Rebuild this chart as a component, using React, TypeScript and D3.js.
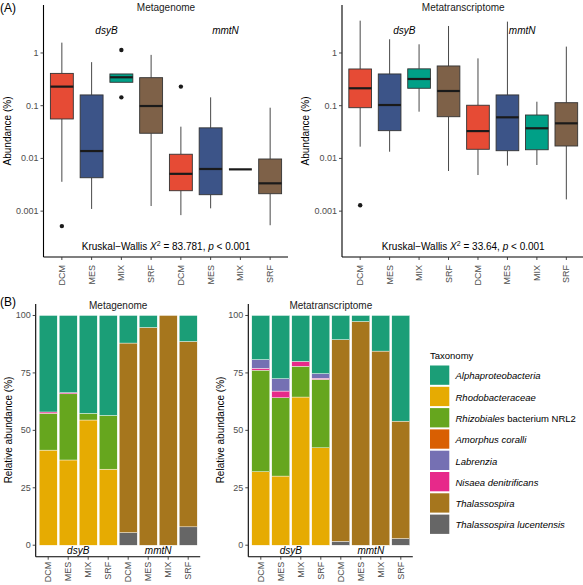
import React from "react";
import * as d3 from "d3";

const sites = ["DCM", "MES", "MIX", "SRF"];
const genes = ["dsyB", "mmtN"];
const siteColors = ["#E64B35", "#3C5488", "#00A087", "#7E6148"];
const cats = genes.flatMap((g) => sites.map((s) => `${g}-${s}`));

// Boxplot stats (% abundance), order: dsyB DCM..SRF, mmtN DCM..SRF
const mgLow = [0.0036, 0.0011, 0.278, 0.00125, 0.00084, 0.00113, 0.0062, 0.00054];
const mgQ1 = [0.056, 0.0043, 0.278, 0.03, 0.00244, 0.00205, 0.0062, 0.00214];
const mgMed = [0.23, 0.0138, 0.346, 0.0986, 0.0051, 0.0063, 0.0062, 0.00337];
const mgQ3 = [0.41, 0.16, 0.4, 0.34, 0.012, 0.038, 0.0062, 0.00975];
const mgHigh = [1.57, 0.67, 0.4, 0.92, 0.04, 0.144, 0.0062, 0.0916];
const mgOut = [[0.00052], [], [1.14, 0.144], [], [0.23], [], [], []];

const mtLow = [0.0167, 0.0134, 0.077, 0.00577, 0.00484, 0.0073, 0.0075, 0.00167];
const mtQ1 = [0.0916, 0.0336, 0.214, 0.0618, 0.0149, 0.014, 0.0146, 0.0172];
const mtMed = [0.214, 0.103, 0.321, 0.19, 0.033, 0.0602, 0.0373, 0.0463];
const mtQ3 = [0.497, 0.4, 0.5, 0.567, 0.102, 0.16, 0.0666, 0.114];
const mtHigh = [4.1, 1.82, 1.46, 3.25, 0.79, 3.93, 0.119, 1.32];
const mtOut = [[0.00129], [], [], [], [], [], [], []];

const logTicks = [0.001, 0.01, 0.1, 1];
const logTickLabels = ["0.001", "0.01", "0.1", "1"];

// Taxonomy (legend order)
const taxa = [
  "Alphaproteobacteria",
  "Rhodobacteraceae",
  "Rhizobiales bacterium NRL2",
  "Amorphus coralli",
  "Labrenzia",
  "Nisaea denitrificans",
  "Thalassospira",
  "Thalassospira lucentensis",
];
const taxaColors = ["#1B9E77", "#E6AB02", "#66A61E", "#D95F02", "#7570B3", "#E7298A", "#A6761D", "#666666"];
// stacking order bottom -> top
const stackOrder = [
  "Thalassospira lucentensis",
  "Thalassospira",
  "Rhodobacteraceae",
  "Rhizobiales bacterium NRL2",
  "Amorphus coralli",
  "Nisaea denitrificans",
  "Labrenzia",
  "Alphaproteobacteria",
];

// Relative abundance (%) per taxon, bars: dsyB DCM..SRF, mmtN DCM..SRF
const mgAlpha = [42.0, 33.6, 42.6, 43.5, 12.0, 5.2, 0, 11.3];
const mgRhodo = [41.4, 37.1, 54.5, 33.1, 0, 0, 0, 0];
const mgRhizo = [16.0, 28.8, 2.9, 23.4, 0, 0, 0, 0];
const mgAmorph = [0, 0, 0, 0, 0, 0, 0, 0];
const mgLabr = [0, 0, 0, 0, 0, 0, 0, 0];
const mgNisaea = [0.6, 0.5, 0, 0, 0, 0, 0, 0];
const mgThal = [0, 0, 0, 0, 82.5, 94.8, 100, 80.7];
const mgThalLuc = [0, 0, 0, 0, 5.5, 0, 0, 8.0];

const mtAlpha = [19.2, 27.5, 20.0, 25.3, 10.5, 2.6, 15.5, 46.0];
const mtRhodo = [32.0, 30.1, 64.5, 42.4, 0, 0, 0, 0];
const mtRhizo = [44.2, 34.1, 13.4, 29.8, 0, 0, 0, 0];
const mtAmorph = [0, 0, 0, 0, 0, 0, 0, 0];
const mtLabr = [3.8, 5.4, 0, 2.0, 0, 0, 0, 0];
const mtNisaea = [0.8, 2.9, 2.1, 0.5, 0, 0, 0, 0];
const mtThal = [0, 0, 0, 0, 87.8, 97.4, 84.5, 51.1];
const mtThalLuc = [0, 0, 0, 0, 1.7, 0, 0, 2.9];

const relTicks = [0, 25, 50, 75, 100];

const FONT = "'Liberation Sans', Arial, Helvetica, sans-serif";
const TICK_COL = "#4D4D4D";

type BoxStats = { low: number[]; q1: number[]; med: number[]; q3: number[]; high: number[]; out: number[][] };

function BoxPanel(props: {
  x0: number;
  x1: number;
  stats: BoxStats;
  title: string;
  kw: string;
  titleX: number;
}) {
  const { x0, x1, stats, title, kw } = props;
  const y = d3.scaleLog().domain([Math.pow(10, -3.87), Math.pow(10, 0.91)]).range([257, 5]);
  const x = d3.scalePoint<string>().domain(cats).range([x0, x1]).padding(0.6);
  const step = x.step();
  const bw = step * 0.77;
  const axisX = x0 - 0.5;
  const yBot = 257;
  return (
    <g>
      <text x={(x0 + x1) / 2} y={11} textAnchor="middle" fontSize={10} fill="#1a1a1a">{title}</text>
      <text
        transform={`translate(${x0 - 37},${131}) rotate(-90)`}
        textAnchor="middle"
        fontSize={10}
        dominantBaseline="central"
        fill="#000"
      >
        Abundance (%)
      </text>
      {genes.map((g, gi) => {
        const c0 = x(cats[gi * 4])!;
        const c1 = x(cats[gi * 4 + 3])!;
        return (
          <text key={g} x={(c0 + c1) / 2} y={34} textAnchor="middle" fontSize={10} fontStyle="italic" fill="#000">
            {g}
          </text>
        );
      })}
      {cats.map((c, i) => {
        const cx = x(c)!;
        const color = siteColors[i % 4];
        const yq1 = y(stats.q1[i]);
        const yq3 = y(stats.q3[i]);
        return (
          <g key={c}>
            <line x1={cx} x2={cx} y1={y(stats.high[i])} y2={yq3} stroke="#333" strokeWidth={0.9} />
            <line x1={cx} x2={cx} y1={yq1} y2={y(stats.low[i])} stroke="#333" strokeWidth={0.9} />
            <rect
              x={cx - bw / 2}
              y={yq3}
              width={bw}
              height={Math.max(0, yq1 - yq3)}
              fill={color}
              stroke="#333"
              strokeWidth={0.9}
            />
            <line x1={cx - bw / 2} x2={cx + bw / 2} y1={y(stats.med[i])} y2={y(stats.med[i])} stroke="#1a1a1a" strokeWidth={2.2} />
            {stats.out[i].map((o, k) => (
              <circle key={k} cx={cx} cy={y(o)} r={2.2} fill="#1a1a1a" />
            ))}
          </g>
        );
      })}
      {/* axes */}
      <line x1={axisX} x2={axisX} y1={5} y2={yBot} stroke="#000" strokeWidth={1.1} />
      <line x1={axisX} x2={x1} y1={yBot} y2={yBot} stroke="#000" strokeWidth={1.1} />
      {logTicks.map((t, i) => (
        <g key={t}>
          <line x1={axisX - 3} x2={axisX} y1={y(t)} y2={y(t)} stroke="#333" strokeWidth={0.9} />
          <text x={axisX - 5} y={y(t)} textAnchor="end" dominantBaseline="central" fontSize={9} fill={TICK_COL}>
            {logTickLabels[i]}
          </text>
        </g>
      ))}
      {cats.map((c, i) => {
        const cx = x(c)!;
        return (
          <g key={c}>
            <line x1={cx} x2={cx} y1={yBot} y2={yBot + 3} stroke="#333" strokeWidth={0.9} />
            <text
              transform={`translate(${cx},${yBot + 8}) rotate(-90)`}
              textAnchor="end"
              dominantBaseline="central"
              fontSize={9}
              fill={TICK_COL}
            >
              {sites[i % 4]}
            </text>
          </g>
        );
      })}
      <text x={(x0 + x1) / 2} y={250} textAnchor="middle" fontSize={10} fill="#000">
        {"Kruskal\u2212Wallis "}
        <tspan fontStyle="italic">X</tspan>
        <tspan fontSize={7} dy={-4}>2</tspan>
        <tspan dy={4}>{` = ${kw}, `}</tspan>
        <tspan fontStyle="italic">p</tspan>
        {" < 0.001"}
      </text>
    </g>
  );
}

function BarPanel(props: { x0: number; x1: number; data: number[][]; title: string }) {
  const { x0, x1, data, title } = props;
  const y = d3.scaleLinear().domain([-5, 105]).range([556.7, 304]);
  const x = d3.scalePoint<string>().domain(cats).range([x0, x1]).padding(0.6);
  const step = x.step();
  const bw = step * 0.9;
  const rows = cats.map((c, i) => {
    const r: Record<string, number | string> = { cat: c };
    taxa.forEach((t, ti) => (r[t] = data[ti][i]));
    return r;
  });
  const series = d3.stack<Record<string, any>>().keys(stackOrder)(rows as any);
  const axisX = x0 - 0.5;
  const yBot = 556.7;
  return (
    <g>
      <text x={(x0 + x1) / 2} y={309} textAnchor="middle" fontSize={10} fill="#1a1a1a">{title}</text>
      <text
        transform={`translate(${x0 - 28},${430}) rotate(-90)`}
        textAnchor="middle"
        dominantBaseline="central"
        fontSize={10}
        fill="#000"
      >
        Relative abundance (%)
      </text>
      {series.map((s) => {
        const ti = taxa.indexOf(s.key);
        return (
          <g key={s.key}>
            {s.map((d, i) =>
              d[1] - d[0] > 0 ? (
                <rect
                  key={i}
                  x={x(cats[i])! - bw / 2}
                  y={y(d[1])}
                  width={bw}
                  height={y(d[0]) - y(d[1])}
                  fill={taxaColors[ti]}
                  stroke="#fff"
                  strokeWidth={0.4}
                />
              ) : null
            )}
          </g>
        );
      })}
      {genes.map((g, gi) => {
        const c0 = x(cats[gi * 4])!;
        const c1 = x(cats[gi * 4 + 3])!;
        return (
          <text key={g} x={(c0 + c1) / 2} y={553.5} textAnchor="middle" fontSize={10} fontStyle="italic" fill="#000">
            {g}
          </text>
        );
      })}
      <line x1={axisX} x2={axisX} y1={304} y2={yBot} stroke="#000" strokeWidth={1.1} />
      <line x1={axisX} x2={x1} y1={yBot} y2={yBot} stroke="#000" strokeWidth={1.1} />
      {relTicks.map((t) => (
        <g key={t}>
          <line x1={axisX - 3} x2={axisX} y1={y(t)} y2={y(t)} stroke="#333" strokeWidth={0.9} />
          <text x={axisX - 5} y={y(t)} textAnchor="end" dominantBaseline="central" fontSize={9} fill={TICK_COL}>
            {t}
          </text>
        </g>
      ))}
      {cats.map((c, i) => {
        const cx = x(c)!;
        return (
          <g key={c}>
            <line x1={cx} x2={cx} y1={yBot} y2={yBot + 3} stroke="#333" strokeWidth={0.9} />
            <text
              transform={`translate(${cx},${yBot + 5}) rotate(-90)`}
              textAnchor="end"
              dominantBaseline="central"
              fontSize={9}
              fill={TICK_COL}
            >
              {sites[i % 4]}
            </text>
          </g>
        );
      })}
    </g>
  );
}

function Legend() {
  const keyTop = 365.5;
  const keyStep = 21.3;
  return (
    <g>
      <text x={430} y={359} fontSize={9.5} fill="#000">Taxonomy</text>
      {taxa.map((t, i) => {
        const y0 = keyTop + i * keyStep;
        let label: React.ReactNode = <tspan fontStyle="italic">{t}</tspan>;
        if (t === "Rhizobiales bacterium NRL2") {
          label = (
            <>
              <tspan fontStyle="italic">Rhizobiales</tspan>
              <tspan>{" bacterium NRL2"}</tspan>
            </>
          );
        }
        return (
          <g key={t}>
            <rect x={430} y={y0} width={19.3} height={19.3} fill={taxaColors[i]} />
            <text x={455.5} y={y0 + 9.8} dominantBaseline="central" fontSize={9.5} fill="#000">
              {label}
            </text>
          </g>
        );
      })}
    </g>
  );
}

export default function App() {
  const mgStats: BoxStats = { low: mgLow, q1: mgQ1, med: mgMed, q3: mgQ3, high: mgHigh, out: mgOut };
  const mtStats: BoxStats = { low: mtLow, q1: mtQ1, med: mtMed, q3: mtQ3, high: mtHigh, out: mtOut };
  const mgBars = [mgAlpha, mgRhodo, mgRhizo, mgAmorph, mgLabr, mgNisaea, mgThal, mgThalLuc];
  const mtBars = [mtAlpha, mtRhodo, mtRhizo, mtAmorph, mtLabr, mtNisaea, mtThal, mtThalLuc];
  return (
    <svg
      width={583}
      height={585}
      style={{ position: "absolute", left: 0, top: 0, display: "block", background: "#fff" }}
      fontFamily={FONT}
    >
      <rect width={583} height={585} fill="#fff" />
      <text x={0} y={12} fontSize={12} fill="#000">(A)</text>
      <text x={0} y={306} fontSize={12} fill="#000">(B)</text>
      <BoxPanel x0={44} x1={288} stats={mgStats} title="Metagenome" kw="83.781" titleX={166} />
      <BoxPanel x0={342.5} x1={584} stats={mtStats} title="Metatranscriptome" kw="33.64" titleX={463} />
      <BarPanel x0={36.2} x1={200.2} data={mgBars} title="Metagenome" />
      <BarPanel x0={248.8} x1={412.8} data={mtBars} title="Metatranscriptome" />
      <Legend />
    </svg>
  );
}
